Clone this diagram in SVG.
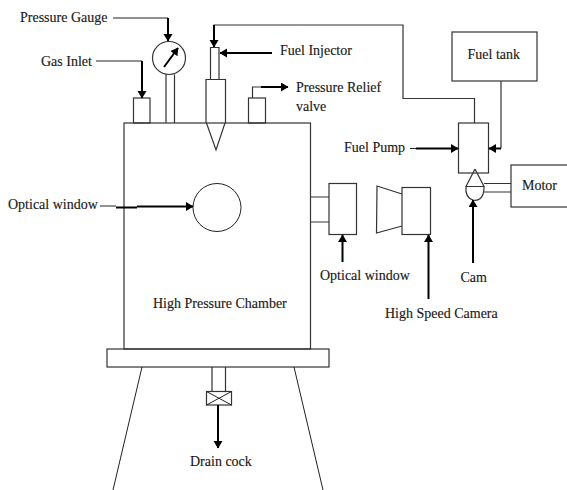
<svg xmlns="http://www.w3.org/2000/svg" width="567" height="490" viewBox="0 0 567 490">
<style>
.s{fill:none;stroke:#333;stroke-width:1.2}
.h{fill:none;stroke:#222;stroke-width:1}
.a{fill:none;stroke:#000;stroke-width:2}
text{font-family:"Liberation Serif","Times New Roman",serif;font-size:14px;fill:#1a1a1a;stroke:#1a1a1a;stroke-width:.15}
</style>
<defs>
<marker id="ah" markerUnits="userSpaceOnUse" markerWidth="10" markerHeight="10" refX="7" refY="4.500" orient="auto"><path d="M0,0L7.500,4.500L0,9Z" fill="#000"/></marker>
</defs>
<rect width="567" height="490" fill="#fff"/>
<g id="chamber"><rect class="s" x="124" y="123" width="186.500" height="226"/><text x="153" y="308">High Pressure Chamber</text></g>
<g id="base"><rect class="s" x="107" y="349" width="222" height="18"/><path class="h" d="M142,367L113,490M294,367L323,490"/></g>
<g id="gas-inlet"><rect class="s" x="133.500" y="98" width="16.500" height="25"/><text x="41" y="66">Gas Inlet</text></g>
<g id="gauge"><circle class="s" cx="169" cy="58" r="16.500"/><path class="s" d="M166,74.500V123M174.500,74.500V123"/><text x="20" y="22">Pressure Gauge</text></g>
<g id="injector"><path class="s" d="M210.500,79V47.500H219V79M206,123V79.500H225.500V123M206.500,123L216,150L225,123"/><text x="280" y="55">Fuel Injector</text></g>
<g id="relief"><rect class="s" x="248.500" y="98" width="17" height="25"/><path class="s" d="M252.500,98V87H261"/><text x="296" y="92">Pressure Relief</text><text x="296" y="111">valve</text></g>
<g id="window-left"><circle class="h" cx="217" cy="207.500" r="24"/><text x="8" y="209">Optical window</text></g>
<g id="window-right"><rect class="s" x="329" y="183.500" width="27.500" height="51"/><path class="s" d="M310.500,197H329M310.500,222H329"/><text x="320" y="280">Optical window</text></g>
<g id="camera"><rect class="s" x="402" y="187.500" width="28.500" height="47"/><path class="s" d="M402,194L377,186L376.500,233L402,226"/><text x="385" y="318">High Speed Camera</text></g>
<g id="tank"><rect class="s" x="452" y="32" width="85" height="49"/><text x="467.500" y="59">Fuel tank</text></g>
<g id="pump"><rect class="s" x="458.500" y="123" width="30" height="50"/><text x="344" y="152">Fuel Pump</text></g>
<g id="cam"><path class="s" d="M475,169L466,186.500H484L475,169M466,187C465,196 470,199 473,200C477,201 484,200 484,187"/><text x="460.500" y="282">Cam</text></g>
<g id="motor"><rect class="s" x="511" y="165" width="57" height="42"/><path class="s" d="M484,183.500H511M484,192H511"/><text x="522" y="190">Motor</text></g>
<g id="drain"><path class="s" d="M212,367V391.500M225.500,367V391.500"/><rect class="s" x="206.500" y="391.500" width="25" height="13.500"/><path class="h" d="M206.500,391.500L231.500,405M206.500,405L231.500,391.500"/><text x="190" y="466">Drain cock</text></g>
<g id="connectors">
<path class="s" d="M214,30V25H403V98.500H474.500V123"/>
<path class="a" d="M214,25V47" marker-end="url(#ah)"/>
<path class="h" d="M113,18H168"/><path class="a" d="M168,18V41" marker-end="url(#ah)"/>
<path class="h" d="M96,61H142"/><path class="a" d="M142,61V98" marker-end="url(#ah)"/>
<path class="a" d="M164,67L178,48" marker-end="url(#ah)"/>
<path class="a" d="M272,53H220" marker-end="url(#ah)"/>
<path class="a" d="M261,87H288" marker-end="url(#ah)"/>
<path class="h" d="M100,206H116"/><path class="a" d="M116,207.500H137"/><path class="a" d="M137,206.500H193" marker-end="url(#ah)"/>
<path class="h" d="M410,148.500H416"/><path class="a" d="M416,148.500H458" marker-end="url(#ah)"/>
<path class="s" d="M501,81V148.500"/><path class="a" d="M501,148.500H489" marker-end="url(#ah)"/>
<path class="a" d="M342.500,262V235" marker-end="url(#ah)"/>
<path class="a" d="M428.500,299V235" marker-end="url(#ah)"/>
<path class="a" d="M473,263V200" marker-end="url(#ah)"/>
<path class="a" d="M218,405V448" marker-end="url(#ah)"/>
</g>
</svg>
